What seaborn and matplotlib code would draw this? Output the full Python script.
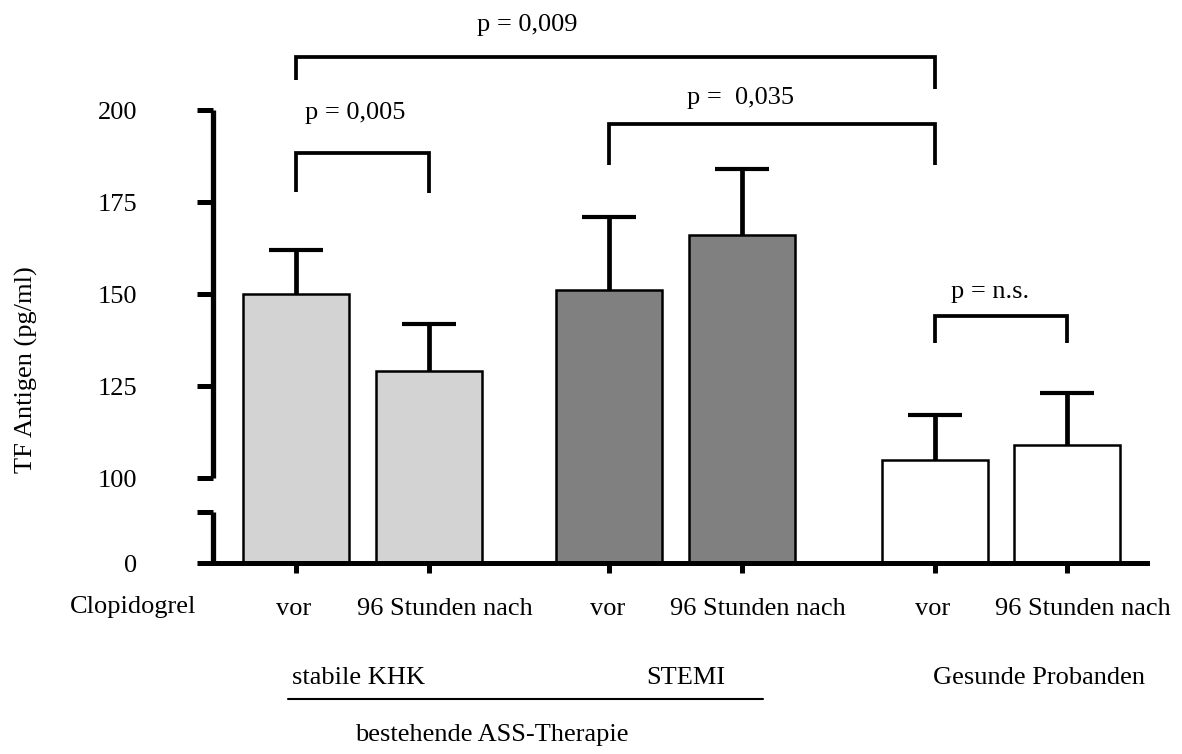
import numpy as np
import pandas as pd
import matplotlib
matplotlib.use("Agg")
import matplotlib.pyplot as plt
from matplotlib.transforms import ScaledTranslation, blended_transform_factory
import seaborn as sns

# ---- data -------------------------------------------------------------
groups = ["stabile KHK", "stabile KHK", "STEMI", "STEMI",
          "Gesunde Probanden", "Gesunde Probanden"]
timepoints = ["vor", "96 Stunden nach"] * 3
tf_antigen = [150, 129, 151, 166, 105, 109]      # mean TF antigen, pg/ml
tf_sem = [12, 13, 20, 18, 12, 14]                # upper error (SEM)
y_tick_values = [0, 100, 125, 150, 175, 200]
comparisons = [(0, 1, "p = 0,005"), (2, 4, "p =  0,035"),
               (0, 4, "p = 0,009"), (4, 5, "p = n.s.")]

# ---- style ------------------------------------------------------------
sns.set_style("white")
plt.rcParams["font.family"] = ["Liberation Serif", "DejaVu Serif"]
plt.rcParams.update({"text.color": "black", "axes.labelcolor": "black",
                     "xtick.color": "black", "ytick.color": "black"})
FS = 19
palette = {"stabile KHK": "#d3d3d3", "STEMI": "#808080",
           "Gesunde Probanden": "#ffffff"}

W, H = 1182, 754
fig = plt.figure(figsize=(W / 100, H / 100), dpi=100)


def fx(px):
    return px / W


def fy(py):
    return 1 - py / H


ax = fig.add_axes([fx(213), fy(563), fx(1147) - fx(213), fy(20) - fy(563)])

# bar positions: pairs of bars, groups separated by a wider gap
group_start = {"stabile KHK": 0.0, "STEMI": 2.36, "Gesunde Probanden": 4.81}
pos = [group_start[g] + (0 if t == "vor" else 1) for g, t in zip(groups, timepoints)]

df = pd.DataFrame({"pos": pos, "value": tf_antigen, "group": groups})
sns.barplot(data=df, x="pos", y="value", hue="group", palette=palette,
            native_scale=True, dodge=False, width=0.8, errorbar=None,
            edgecolor="black", linewidth=1.8, legend=False, ax=ax)

# broken value axis: 0..100 compressed, 100..200 at full scale
K = 0.231


def fwd(v):
    v = np.asarray(v, dtype=float)
    return np.where(v < 100, v * K, 100 * K + (v - 100))


def inv(u):
    u = np.asarray(u, dtype=float)
    return np.where(u < 100 * K, u / K, u - 100 * K + 100)


ax.set_yscale("function", functions=(fwd, inv))
ax.set_ylim(0, 224.5)
ax.set_xlim(-0.626, 6.41)

# upper error bars only
eb = ax.errorbar(pos, tf_antigen, yerr=[np.zeros(len(tf_sem)), tf_sem],
                 fmt="none", ecolor="black", elinewidth=3.4,
                 capsize=19.5, capthick=3.0, zorder=4)
for cl in eb[1]:
    if np.allclose(cl.get_ydata(), tf_antigen):
        cl.set_visible(False)

# spines
for s in ["top", "right", "left"]:
    ax.spines[s].set_visible(False)
ax.spines["bottom"].set_linewidth(3.6)
ax.spines["bottom"].set_color("black")
ax.spines["bottom"].set_zorder(5)

BREAK_LOW = 60
trans_y = blended_transform_factory(ax.transAxes, ax.transData)
for lo, hi in [(0, BREAK_LOW), (100, 200)]:
    ax.plot([0, 0], [lo, hi], color="black", lw=3.8, transform=trans_y,
            clip_on=False, solid_capstyle="butt", zorder=5)

ax.set_yticks([0, BREAK_LOW] + y_tick_values[1:])
ax.set_yticklabels(["0", ""] + [str(v) for v in y_tick_values[1:]], fontsize=FS)
ax.tick_params(axis="y", direction="out", length=11.5, width=3.6, pad=43,
               left=True, color="black", labelcolor="black")

ax.set_xticks(pos)
ax.set_xticklabels(timepoints, fontsize=FS)
ax.tick_params(axis="x", direction="out", length=7, width=3.6, pad=18,
               bottom=True, color="black", labelcolor="black")
for lbl, t in zip(ax.get_xticklabels(), timepoints):
    if t != "vor":
        lbl.set_transform(lbl.get_transform() +
                          ScaledTranslation(0.16, 0, fig.dpi_scale_trans))
    else:
        lbl.set_transform(lbl.get_transform() +
                          ScaledTranslation(-0.02, 0, fig.dpi_scale_trans))
ax.set_xlabel("")
ax.set_ylabel("")

# significance brackets: (left foot, top, right foot, text x, text y)
bracket_geom = [(177.7, 188.3, 177.4, 0.445, 199.2),
                (185.1, 196.2, 185.1, 3.35, 203.3),
                (208.2, 214.4, 205.7, 1.74, 223.1),
                (136.7, 144.0, 136.7, 5.23, 150.5)]
for (i, j, label), (b1, top, b2, tx, ty) in zip(comparisons, bracket_geom):
    ax.plot([pos[i], pos[i], pos[j], pos[j]], [b1, top, top, b2],
            color="black", lw=2.7, clip_on=False, solid_joinstyle="miter",
            solid_capstyle="butt", zorder=5)
    ax.text(tx, ty, label, ha="center", va="center", fontsize=FS,
            clip_on=False)

# outer labels
fig.text(fx(26), fy(370), "TF Antigen (pg/ml)", rotation=90,
         ha="center", va="center", fontsize=FS)
fig.text(fx(133.5), fy(607), "Clopidogrel", ha="center", va="center",
         fontsize=FS)
fig.text(fx(359), fy(678), "stabile KHK", ha="center", va="center", fontsize=FS)
fig.text(fx(686), fy(678), "STEMI", ha="center", va="center", fontsize=FS)
fig.text(fx(1039), fy(678), "Gesunde Probanden", ha="center", va="center",
         fontsize=FS)
fig.add_artist(plt.Line2D([fx(288), fx(763)], [fy(699), fy(699)],
                          color="black", lw=1.5, transform=fig.transFigure))
fig.text(fx(492), fy(735), "bestehende ASS-Therapie", ha="center",
         va="center", fontsize=FS)

fig.savefig("out.png", dpi=100)
